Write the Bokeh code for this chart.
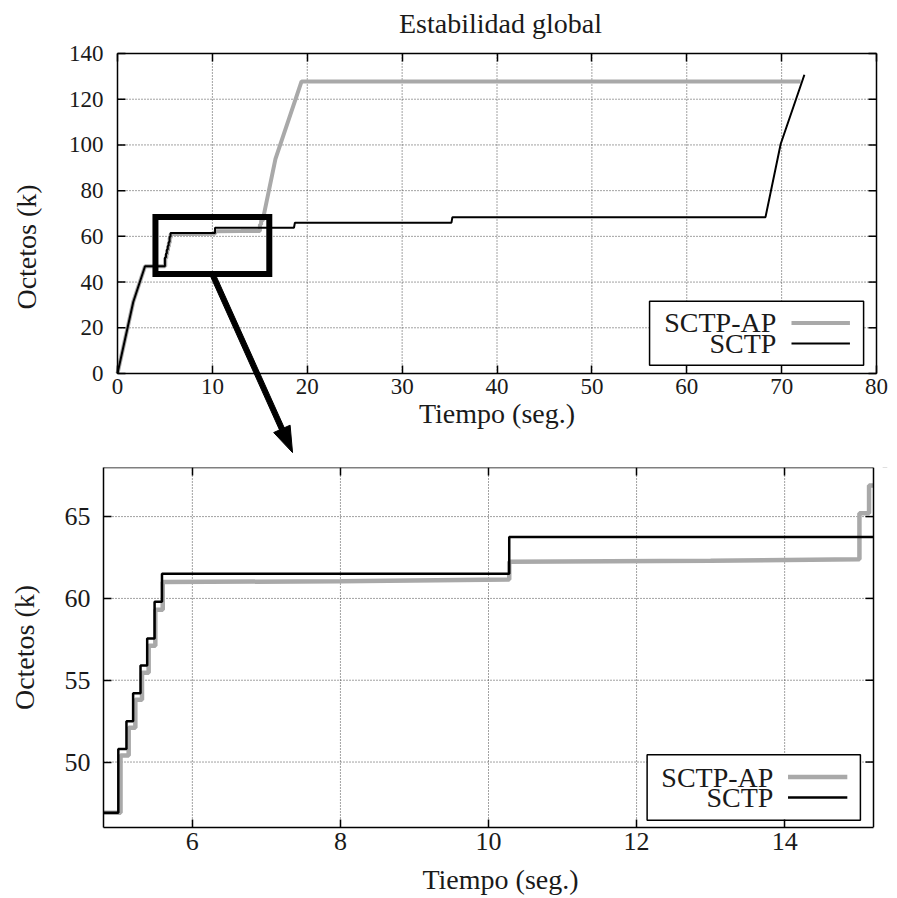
import math
from bokeh.plotting import figure
from bokeh.models import Range1d, LinearAxis, FixedTicker
from bokeh.layouts import column
from bokeh.core.properties import value
from bokeh.embed import file_html
from bokeh.resources import INLINE

# ---------------- data ----------------
sctp_t = [0.0, 1.66, 2.9, 5.00, 5.00, 5.11, 5.11, 5.20, 5.20, 5.30, 5.30, 5.39, 5.39,
          5.49, 5.49, 5.59, 5.59, 10.28, 10.28, 18.6, 18.7, 35.2, 35.3, 68.3, 69.9, 72.4]
sctp_k = [0.0, 31.3, 46.9, 46.9, 50.8, 50.8, 52.5, 52.5, 54.2, 54.2, 55.9, 55.9, 57.55,
          57.55, 59.8, 59.8, 61.5, 61.5, 63.76, 63.76, 66.0, 66.0, 68.4, 68.4, 100.4, 130.7]

ap_t = [0.0, 1.66, 2.9, 5.03, 5.03, 5.14, 5.14, 5.23, 5.23, 5.32, 5.32, 5.41, 5.41,
        5.50, 5.50, 5.60, 5.60, 8.0, 10.28, 10.28, 13.0, 15.01, 15.01, 15.14, 15.14,
        15.3, 16.65, 19.4, 72.0]
ap_k = [0.0, 31.3, 46.9, 46.9, 50.4, 50.4, 52.1, 52.1, 53.8, 53.8, 55.45, 55.45, 57.1,
        57.1, 59.3, 59.3, 61.0, 61.05, 61.15, 62.24, 62.3, 62.39, 65.2, 65.2, 66.9,
        66.9, 93.9, 127.8, 127.8]

series_names = ["SCTP-AP", "SCTP"]
title_text = "Estabilidad global"
x_label = "Tiempo (seg.)"
y_label = "Octetos (k)"

top_xticks = [0, 10, 20, 30, 40, 50, 60, 70, 80]
top_yticks = [0, 20, 40, 60, 80, 100, 120, 140]
bot_xticks = [6, 8, 10, 12, 14]
bot_yticks = [50, 55, 60, 65]

TOP_X = (0, 80)
TOP_Y = (0, 140)
BOT_X = (4.8, 15.2)
BOT_Y = (46.0, 68.0)
ZOOM_BOX = (4.0, 16.0, 43.5, 68.5)   # left, right, bottom, top (top chart units)
ARROW_START_X = 10.0
ARROW_END = (18.45, -34.6)           # top chart units (below its x axis)

GREY = "#a9a9a9"
FONT = "Liberation Serif"
TEXT_C = "#1a1a1a"
LAB_FS = "28px"
GRID_C = "#444444"
TICK_LEN = 8
EDGE_W = 1.5

W = 897
F_LEFT = 103            # drawing area of both charts starts here and runs to W
# top chart: plot box 117..876 x 53..373; drawing area 103..897 x 40..453
B_LEFT, B_W, B_TOP, B_H = 117, 759, 53, 320
C1_TOP, C1_H = 40, 453
kx = (TOP_X[1] - TOP_X[0]) / B_W
ky = (TOP_Y[1] - TOP_Y[0]) / B_H
TOP_XVIEW = (TOP_X[0] - (B_LEFT - F_LEFT) * kx, TOP_X[1] + (W - B_LEFT - B_W) * kx)
TOP_YVIEW = (TOP_Y[0] - (C1_H - B_TOP - B_H) * ky, TOP_Y[1] + (B_TOP - C1_TOP) * ky)
# bottom chart: plot box 103..873 wide
B2_W = 770
kx2 = (BOT_X[1] - BOT_X[0]) / B2_W
BOT_XVIEW = (BOT_X[0], BOT_X[1] + (W - F_LEFT - B2_W) * kx2)


def axis_style(ax, ticks, tick_fs):
    ax.ticker = FixedTicker(ticks=ticks)
    ax.major_tick_in = TICK_LEN
    ax.major_tick_out = 0
    ax.minor_tick_line_color = None
    ax.axis_line_color = "black"
    ax.axis_line_width = EDGE_W
    ax.major_tick_line_width = EDGE_W
    ax.major_label_text_font = FONT
    ax.major_label_text_font_size = tick_fs
    ax.major_label_text_color = TEXT_C
    ax.axis_label_text_font = FONT
    ax.axis_label_text_font_size = LAB_FS
    ax.axis_label_text_font_style = "normal"
    ax.axis_label_text_color = TEXT_C


def mirror_axis(p, loc, ticks, **kw):
    ax = LinearAxis(ticker=FixedTicker(ticks=ticks), major_tick_in=TICK_LEN, major_tick_out=0,
                    minor_tick_line_color=None, axis_line_color="black",
                    axis_line_width=EDGE_W, major_tick_line_width=EDGE_W,
                    major_label_text_font_size="1px", major_label_text_color=None,
                    major_label_standoff=0, **kw)
    p.add_layout(ax, loc)


def box_grid(p, xr, yr, xticks, yticks):
    """dotted grid limited to the plot box"""
    nxt, nyt = len(xticks), len(yticks)
    p.segment(x0=xticks, y0=[yr[0]] * nxt, x1=xticks, y1=[yr[1]] * nxt,
              line_color=GRID_C, line_dash="1 2", line_width=1)
    p.segment(x0=[xr[0]] * nyt, y0=yticks, x1=[xr[1]] * nyt, y1=yticks,
              line_color=GRID_C, line_dash="1 2", line_width=1)


def box_edges(p, xr, yr, yticks, kxx, left_edge):
    nyt = len(yticks)
    edges = [xr[1]] + ([xr[0]] if left_edge else [])
    p.segment(x0=edges, y0=[yr[0]] * len(edges), x1=edges, y1=[yr[1]] * len(edges),
              line_color="black", line_width=EDGE_W)
    p.segment(x0=[xr[1]] * nyt, y0=yticks, x1=[xr[1] - TICK_LEN * kxx] * nyt,
              y1=yticks, line_color="black", line_width=EDGE_W)
    if left_edge:
        p.segment(x0=[xr[0]] * nyt, y0=yticks, x1=[xr[0] + TICK_LEN * kxx] * nyt,
                  y1=yticks, line_color="black", line_width=EDGE_W)


def legend(p, xr, yr, box, txt_right, samp, rows, widths):
    fx = lambda f: xr[0] + f * (xr[1] - xr[0])
    fy = lambda f: yr[0] + f * (yr[1] - yr[0])
    p.quad(left=[fx(box[0])], right=[fx(box[1])], bottom=[fy(box[2])], top=[fy(box[3])],
           fill_color="white", line_color="black", line_width=EDGE_W)
    ys = [fy(f) for f in rows]
    p.text(x=[fx(txt_right)] * 2, y=ys, text=series_names, text_align="right",
           text_baseline="middle", text_font=value(FONT), text_font_size=LAB_FS,
           text_color=TEXT_C)
    for yy, col, w in zip(ys, (GREY, "black"), widths):
        p.segment(x0=[fx(samp[0])], y0=[yy], x1=[fx(samp[1])], y1=[yy],
                  line_color=col, line_width=w)


# ---------------- top chart ----------------
p1 = figure(width=W, height=C1_H, x_range=Range1d(*TOP_XVIEW), y_range=Range1d(*TOP_YVIEW),
            output_backend="svg", toolbar_location=None,
            min_border_left=F_LEFT, min_border_right=0, min_border_top=C1_TOP,
            min_border_bottom=0)
p1.outline_line_color = None
p1.background_fill_color = "white"
p1.border_fill_color = "white"
p1.title.text = title_text
p1.title.align = "center"
p1.title.text_font = FONT
p1.title.text_font_size = LAB_FS
p1.title.text_font_style = "normal"
p1.title.text_color = TEXT_C
p1.title.standoff = 4

p1.xaxis.visible = False
p1.xgrid.visible = False
p1.ygrid.visible = False

ya = p1.yaxis[0]           # only its labels; edge and ticks are drawn at x = 0
axis_style(ya, top_yticks, "23px")
ya.axis_line_color = None
ya.major_tick_line_color = None
ya.axis_label = y_label
ya.major_label_standoff = 0
ya.axis_label_standoff = 24

xa = LinearAxis(fixed_location=TOP_Y[0], bounds=TOP_X, axis_label=x_label)
axis_style(xa, top_xticks, "23px")
xa.major_label_standoff = 5
xa.axis_label_standoff = 1
p1.add_layout(xa, "below")
mirror_axis(p1, "above", top_xticks, fixed_location=TOP_Y[1], bounds=TOP_X)

box_grid(p1, TOP_X, TOP_Y, top_xticks, top_yticks)
p1.line(ap_t, ap_k, line_color=GREY, line_width=4)
p1.line(sctp_t, sctp_k, line_color="black", line_width=2)
box_edges(p1, TOP_X, TOP_Y, top_yticks, kx, True)
p1.quad(left=[ZOOM_BOX[0]], right=[ZOOM_BOX[1]], bottom=[ZOOM_BOX[2]], top=[ZOOM_BOX[3]],
        fill_color=None, line_color="black", line_width=6, line_join="miter")
legend(p1, TOP_X, TOP_Y, (0.701, 0.983, 0.026, 0.226), 0.868, (0.888, 0.965),
       (0.158, 0.094), (4, 2))


# arrow from the zoom box down to the detail chart, shaped in pixel space
def d2s(x, y):
    return (B_LEFT + (x - TOP_X[0]) / kx, B_TOP + B_H - (y - TOP_Y[0]) / ky)


def s2d(sx, sy):
    return (TOP_X[0] + (sx - B_LEFT) * kx, TOP_Y[0] + (B_TOP + B_H - sy) * ky)


sx0, sy0 = d2s(ARROW_START_X, ZOOM_BOX[2])
sx1, sy1 = d2s(*ARROW_END)
L = math.hypot(sx1 - sx0, sy1 - sy0)
ux, uy = (sx1 - sx0) / L, (sy1 - sy0) / L
nx, ny = uy, -ux
HEAD_L, HEAD_HW, SHAFT_HW = 26, 9, 2.6
bx, by = sx1 - HEAD_L * ux, sy1 - HEAD_L * uy
shaft_px = [(sx0 + SHAFT_HW * nx, sy0 + SHAFT_HW * ny), (bx + SHAFT_HW * nx, by + SHAFT_HW * ny),
            (bx - SHAFT_HW * nx, by - SHAFT_HW * ny), (sx0 - SHAFT_HW * nx, sy0 - SHAFT_HW * ny)]
head_px = [(sx1, sy1), (bx + HEAD_HW * nx, by + HEAD_HW * ny), (bx - HEAD_HW * nx, by - HEAD_HW * ny)]
for poly in (shaft_px, head_px):
    pts = [s2d(*q) for q in poly]
    p1.patch([q[0] for q in pts], [q[1] for q in pts], fill_color="black",
             line_color="black", line_width=1)

# ---------------- bottom chart ----------------
p2 = figure(width=W, height=445, x_range=Range1d(*BOT_XVIEW), y_range=Range1d(*BOT_Y),
            output_backend="svg", toolbar_location=None,
            min_border_left=F_LEFT, min_border_right=0, min_border_top=14,
            min_border_bottom=71)
p2.outline_line_color = None
p2.background_fill_color = "white"
p2.border_fill_color = "white"
p2.xgrid.visible = False
p2.ygrid.visible = False
xb, yb = p2.xaxis[0], p2.yaxis[0]
axis_style(xb, bot_xticks, "26px")
axis_style(yb, bot_yticks, "26px")
xb.bounds = BOT_X
xb.axis_label = x_label
yb.axis_label = y_label
xb.major_label_standoff = 5
xb.axis_label_standoff = 11
yb.major_label_standoff = 13
yb.axis_label_standoff = 22

box_grid(p2, BOT_X, BOT_Y, bot_xticks, bot_yticks)
p2.line(ap_t, ap_k, line_color=GREY, line_width=4.5)
p2.line(sctp_t, sctp_k, line_color="black", line_width=2.5)
# blank strip right of the plot box (the curves continue past its edge)
p2.quad(left=[BOT_X[1]], right=[BOT_XVIEW[1]], bottom=[BOT_Y[0]], top=[BOT_Y[1]],
        fill_color="white", line_color=None)
box_edges(p2, BOT_X, BOT_Y, bot_yticks, kx2, False)
mirror_axis(p2, "above", bot_xticks, fixed_location=BOT_Y[1], bounds=BOT_X)
legend(p2, BOT_X, BOT_Y, (0.706, 0.983, 0.02, 0.202), 0.870, (0.889, 0.966),
       (0.140, 0.083), (4.5, 2.5))

layout = column(p1, p2, spacing=0)
open("out.html", "w").write(file_html(layout, INLINE))
